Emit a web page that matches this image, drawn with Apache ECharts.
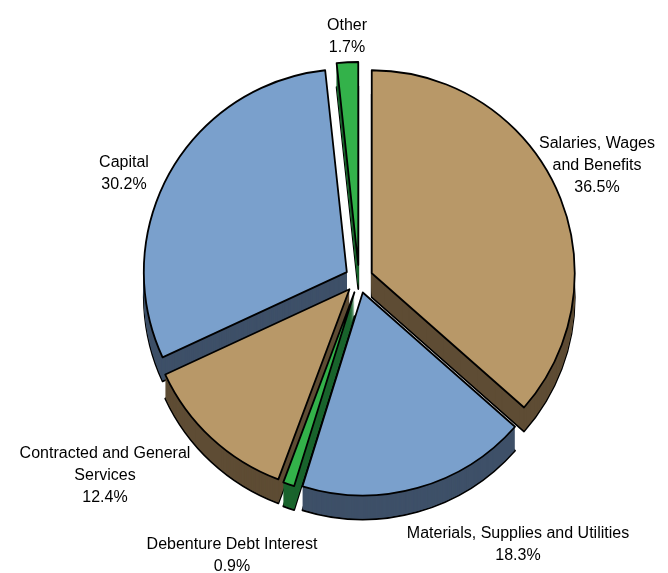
<!DOCTYPE html>
<html>
<head>
<meta charset="utf-8">
<script src="https://cdn.jsdelivr.net/npm/echarts@6/dist/echarts.min.js"></script>
<style>
html,body{margin:0;padding:0;background:#fff;}
#chart{width:668px;height:573px;}
</style>
</head>
<body>
<div id="chart"></div>
<script>
// ---- data ----
var categories = [
  "Salaries, Wages\nand Benefits",
  "Materials, Supplies and Utilities",
  "Debenture Debt Interest",
  "Contracted and General\nServices",
  "Capital",
  "Other"
];
var values = [36.5, 18.3, 0.9, 12.4, 30.2, 1.7];

// ---- styles ----
var topColors  = ["#B89868", "#7AA0CC", "#33B24A", "#B89868", "#7AA0CC", "#33B24A"];
var sideColors = ["#5E4C34", "#3E5068", "#1A642D", "#5E4C34", "#3E5068", "#1A642D"];
var labelPos = [[597,166],[518,545],[232,556],[105,476],[124,174],[347,37]];
var CX = 359, CY = 279, R = 203, DEPTH = 24, OFFSET = 14;

function makeData(colors, border) {
  return categories.map(function (c, i) {
    var st = {color: colors[i]};
    if (border) { st.borderColor = '#000'; st.borderWidth = 1.8; }
    else { st.borderWidth = 0; }
    return {name: c, value: values[i], selected: true, itemStyle: st, select: {itemStyle: st}};
  });
}

var series = [];
for (var k = DEPTH; k >= 1; k--) {
  series.push({
    type: 'pie', silent: true, animation: false,
    center: [CX, CY + k], radius: R,
    startAngle: 90, clockwise: true,
    selectedMode: 'multiple', selectedOffset: OFFSET,
    label: {show: false}, labelLine: {show: false},
    emphasis: {disabled: true},
    data: makeData(sideColors, k === DEPTH)
  });
}
series.push({
  type: 'pie', silent: true, animation: false,
  center: [CX, CY], radius: R,
  startAngle: 90, clockwise: true,
  selectedMode: 'multiple', selectedOffset: OFFSET,
  emphasis: {disabled: true},
  label: {show: false}, labelLine: {show: false},
  data: makeData(topColors, true)
});

var graphics = categories.map(function (c, i) {
  return {
    type: 'text', silent: true, z: 100,
    x: labelPos[i][0], y: labelPos[i][1],
    style: {
      text: c + '\n' + values[i].toFixed(1) + '%',
      fill: '#000',
      font: '16px "Liberation Sans", Arial, sans-serif',
      lineHeight: 22,
      align: 'center', verticalAlign: 'middle'
    }
  };
});

var chart = echarts.init(document.getElementById('chart'), null, {renderer: 'canvas'});
chart.setOption({animation: false, backgroundColor: '#fff', series: series, graphic: graphics});
</script>
</body>
</html>
